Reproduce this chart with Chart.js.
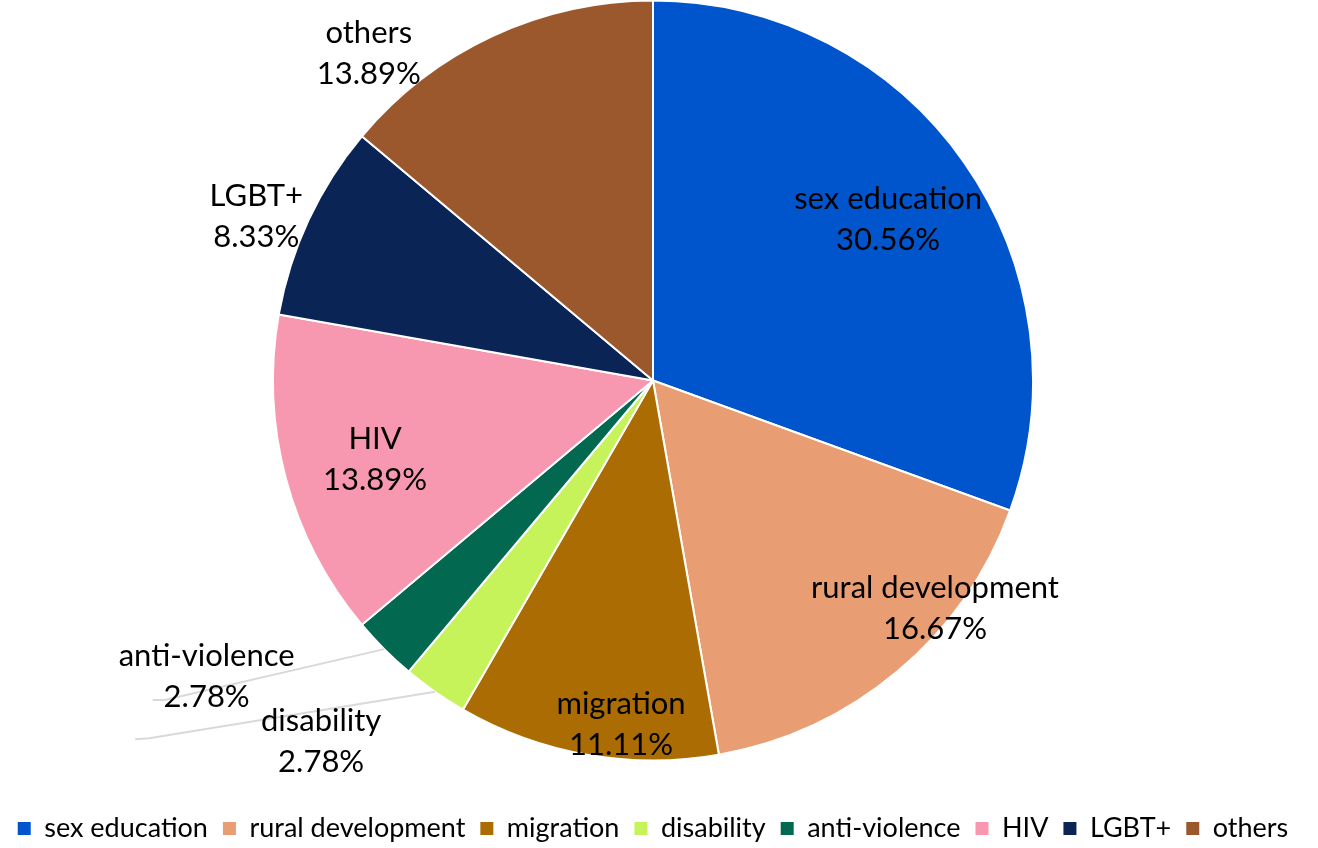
<!DOCTYPE html>
<html>
<head>
<meta charset="utf-8">
<script src="https://cdn.jsdelivr.net/npm/chart.js@4/dist/chart.umd.min.js"></script>
<style>
	html, body { margin: 0; padding: 0; background: #fff; }
	#wrap { width: 1318px; height: 848px; position: relative; }
</style>
</head>
<body>
<div id="wrap"><canvas id="pie"></canvas></div>
<script>
const categories = ["sex education", "rural development", "migration", "disability", "anti-violence", "HIV", "LGBT+", "others"];
const shares = [30.56, 16.67, 11.11, 2.78, 2.78, 13.89, 8.33, 13.89];
const colours = ["#0055CC", "#E89D72", "#AB6C04", "#C6F25A", "#02684F", "#F797B0", "#0A2456", "#9B582C"];

const FONT = "Lato, 'Open Sans', sans-serif";

// where each data label sits: angle shift (deg) from slice middle, distance as fraction of radius,
// and optional leader line end (offset from label anchor)
const labelPlace = [
	{ da: 0.6, r: 0.75 },
	{ da: -11, r: 0.955 },
	{ da: -4.7, r: 0.91 },
	{ da: 7.6, r: 1.29, lead: [[-172, -3], [-186, -2]] },
	{ da: 11.4, r: 1.41, lead: [[-42, 23], [-54, 23]] },
	{ da: -0.8, r: 0.76 },
	{ da: -2.5, r: 1.13 },
	{ da: -16, r: 1.14 },
];

const sliceLabels = {
	id: "sliceLabels",
	afterDatasetsDraw(chart) {
		const { ctx } = chart;
		const meta = chart.getDatasetMeta(0);
		ctx.save();
		meta.data.forEach((arc, i) => {
			const p = arc.getProps(["x", "y", "startAngle", "endAngle", "outerRadius"], true);
			const place = labelPlace[i];
			const mid = (p.startAngle + p.endAngle) / 2;
			const a = mid + place.da * Math.PI / 180;
			const lx = p.x + Math.cos(a) * p.outerRadius * place.r;
			const ly = p.y + Math.sin(a) * p.outerRadius * place.r;

			if (place.lead) {
				ctx.strokeStyle = "#D9D9D9";
				ctx.lineWidth = 2;
				ctx.beginPath();
				ctx.moveTo(p.x + Math.cos(mid) * p.outerRadius, p.y + Math.sin(mid) * p.outerRadius);
				place.lead.forEach(([dx, dy]) => ctx.lineTo(lx + dx, ly + dy));
				ctx.stroke();
			}

			ctx.fillStyle = "#000";
			ctx.font = "31px " + FONT;
			ctx.textAlign = "center";
			ctx.textBaseline = "middle";
			ctx.fillText(chart.data.labels[i], lx, ly - 20.5);
			ctx.fillText(shares[i].toFixed(2) + "%", lx, ly + 20.5);
		});
		ctx.restore();
	},
};

const ctx = document.getElementById("pie");

const chart = new Chart(ctx, {
	type: "pie",
	data: {
		labels: categories,
		datasets: [
			{
				data: shares,
				backgroundColor: colours,
				borderColor: "#fff",
				borderWidth: 2,
				radius: 380,
			},
		],
	},
	options: {
		responsive: true,
		maintainAspectRatio: false,
		animation: false,
		layout: {
			padding: { top: 0, right: 12, bottom: -4, left: 0 },
		},
		plugins: {
			tooltip: { enabled: false },
			legend: {
				position: "bottom",
				title: {
					display: true,
					text: "",
					font: { size: 1, lineHeight: 1 },
					padding: { top: 19, bottom: 19 },
				},
				labels: {
					color: "#000",
					font: { family: FONT, size: 27 },
					boxWidth: 13,
					boxHeight: 13,
					padding: 15,
					generateLabels(chart) {
						return chart.data.labels.map((text, i) => ({
							text,
							fillStyle: colours[i],
							strokeStyle: colours[i],
							fontColor: "#000",
							lineWidth: 0,
							index: i,
							hidden: false,
						}));
					},
				},
			},
		},
	},
	plugins: [sliceLabels],
});
</script>
</body>
</html>
